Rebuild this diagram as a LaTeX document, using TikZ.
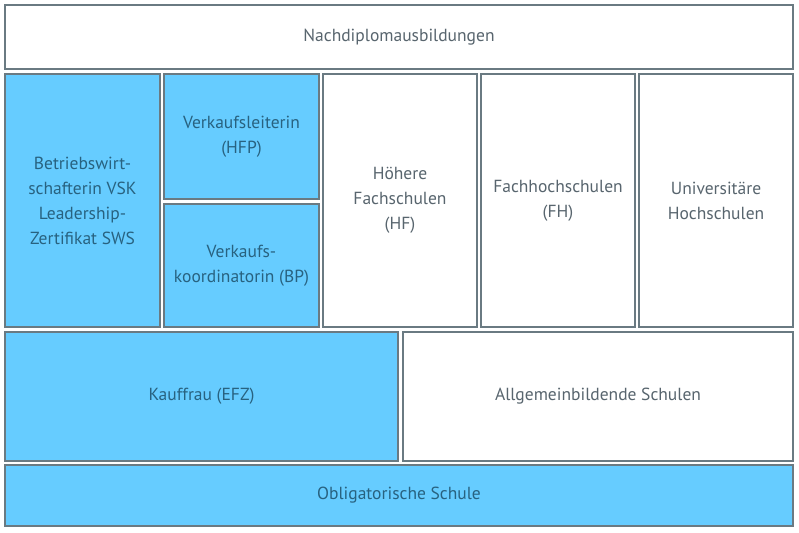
\documentclass[tikz,border=0pt]{standalone}
\usepackage{fontspec}
\setmainfont{PT Sans}
\definecolor{blau}{RGB}{102,204,255}
\definecolor{rand}{RGB}{106,122,130}
\definecolor{grautext}{RGB}{88,101,110}
\definecolor{blautext}{RGB}{40,98,128}
\tikzset{
	feld/.style={draw=rand,line width=1.4pt,rectangle,align=center,inner sep=2pt,
		font=\fontsize{17.5}{25}\selectfont},
	weiss/.style={feld,fill=white,text=grautext},
	blaufeld/.style={feld,fill=blau,text=blautext},
}

\begin{document}
\begin{tikzpicture}[x=1pt,y=-1pt]
\useasboundingbox (0,0) rectangle (799,532);
\node[weiss,minimum width=788pt,minimum height=64pt] (nds) at (399,37) {Nachdiplomausbildungen};
% zweite Reihe
\node[blaufeld,minimum width=155pt,minimum height=253pt] (bw) at (82.5,200.5)
	{Betriebswirt-\\schafterin VSK\\Leadership-\\Zertifikat SWS};
\node[blaufeld,minimum width=155pt,minimum height=125pt] (vl) at (241.5,136.5) {Verkaufsleiterin\\(HFP)};
\node[blaufeld,minimum width=155pt,minimum height=123pt] (vk) at (241.5,265.5) {Verkaufs-\\koordinatorin (BP)};
\foreach \x/\n/\t in {400/hf/{Höhere\\Fachschulen\\(HF)},558/fh/{Fachhochschulen\\(FH)},716/uni/{Universitäre\\Hochschulen}} {
	\node[weiss,minimum width=154pt,minimum height=253pt] (\n) at (\x,200.5) {\t};
}
% untere Reihen
\node[blaufeld,minimum width=393pt,minimum height=129pt] (kf) at (201.5,396.5) {Kauffrau (EFZ)};
\node[weiss,minimum width=390pt,minimum height=129pt] (abs) at (598,396.5) {Allgemeinbildende Schulen};
\node[blaufeld,minimum width=788pt,minimum height=61pt] (os) at (399,495.5) {Obligatorische Schule};
\end{tikzpicture}
\end{document}
